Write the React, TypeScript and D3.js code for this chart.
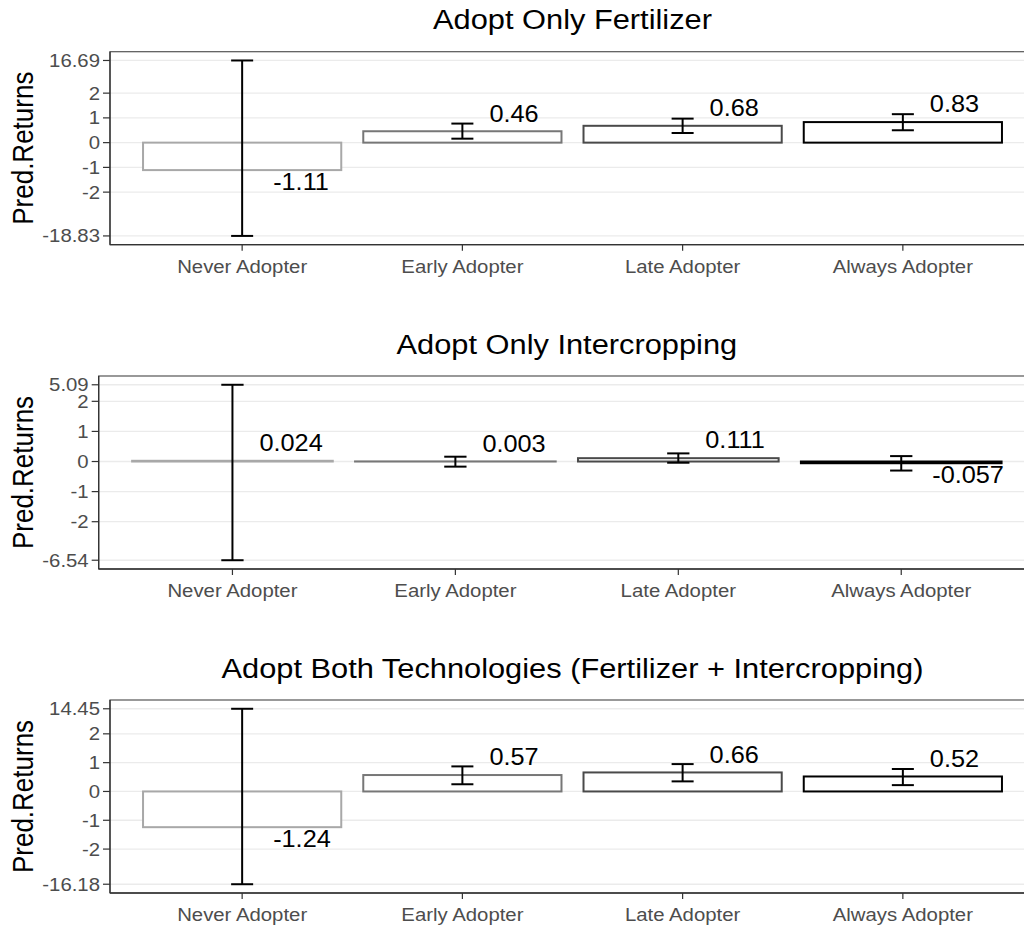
import React from 'react';
import * as d3 from 'd3';

const categories = ['Never Adopter', 'Early Adopter', 'Late Adopter', 'Always Adopter'];
const panelTitles = [
  'Adopt Only Fertilizer',
  'Adopt Only Intercropping',
  'Adopt Both Technologies (Fertilizer + Intercropping)',
];

const fertValues = [-1.11, 0.46, 0.68, 0.83];
const fertLower = [-18.83, 0.16, 0.39, 0.5];
const fertUpper = [16.69, 0.77, 0.97, 1.15];

const interValues = [0.024, 0.003, 0.111, -0.057];
const interLower = [-6.54, -0.17, -0.04, -0.3];
const interUpper = [5.09, 0.16, 0.27, 0.18];

const bothValues = [-1.24, 0.57, 0.66, 0.52];
const bothLower = [-16.18, 0.25, 0.35, 0.22];
const bothUpper = [14.45, 0.87, 0.95, 0.78];

const innerTicks = [-2, -1, 0, 1, 2];
// compressed axis positions (in linear units) of the outer break values
const fertOuter = [-3.77, 3.32];
const interOuter = [-3.28, 2.55];
const bothOuter = [-3.22, 2.87];

const outlineColors = ['#a8a8a8', '#777777', '#4a4a4a', '#000000'];

const panels = [
  { title: panelTitles[0], values: fertValues, lower: fertLower, upper: fertUpper, outer: fertOuter },
  { title: panelTitles[1], values: interValues, lower: interLower, upper: interUpper, outer: interOuter },
  { title: panelTitles[2], values: bothValues, lower: bothLower, upper: bothUpper, outer: bothOuter },
];

const W = 1024;
const H = 928;
const SX = 1.1;
const FONT = '"Liberation Sans", Arial, Helvetica, sans-serif';
const panelTops = [51.7, 376, 700];
const panelH = 193;
const plotRight = 1035;
const yTitleX = 33.3;
const TICK_FS = 18.5;

let ctx: CanvasRenderingContext2D | null = null;
function measure(text: string, size: number): number {
  try {
    if (!ctx) ctx = document.createElement('canvas').getContext('2d');
    if (ctx) {
      ctx.font = `${size}px "Liberation Sans", Arial, sans-serif`;
      return ctx.measureText(text).width;
    }
  } catch (e) {}
  return text.length * size * 0.55;
}

function Panel({ p, top }: { p: typeof panels[number]; top: number }) {
  const lo = p.lower[0];
  const hi = p.upper[0];
  const ticks = [lo, ...innerTicks, hi];
  const labels = ticks.map((t) => String(t));
  const maxW = d3.max(labels, (l) => measure(l, TICK_FS))! * SX;
  const left = yTitleX + 9 + maxW + 10;
  const bottom = top + panelH;

  const t = d3.scaleLinear().domain([lo, -2, 2, hi]).range([p.outer[0], -2, 2, p.outer[1]]);
  const pad = 0.05 * (p.outer[1] - p.outer[0]);
  const py = d3.scaleLinear().domain([p.outer[0] - pad, p.outer[1] + pad]).range([bottom, top]);
  const y = (v: number) => py(t(v));
  const x = d3.scalePoint<string>().domain(categories).range([left, plotRight]).padding(0.6);
  const step = x.step();
  const y0 = y(0);

  return (
    <g>
      {ticks.map((tk, i) => (
        <line key={'g' + i} x1={left} x2={plotRight} y1={y(tk)} y2={y(tk)} stroke="#ebebeb" strokeWidth={1.3} />
      ))}
      {categories.map((c, i) => {
        const cx = x(c)!;
        const v = p.values[i];
        const yv = y(v);
        return (
          <rect
            key={'b' + i}
            x={cx - 0.45 * step}
            y={Math.min(yv, y0)}
            width={0.9 * step}
            height={Math.abs(yv - y0)}
            fill="#ffffff"
            stroke={outlineColors[i]}
            strokeWidth={2}
          />
        );
      })}
      {categories.map((c, i) => {
        const cx = x(c)!;
        const yl = y(p.lower[i]);
        const yu = y(p.upper[i]);
        const hw = 0.05 * step;
        return (
          <g key={'e' + i} stroke="#000" strokeWidth={2}>
            <line x1={cx} x2={cx} y1={yl} y2={yu} />
            <line x1={cx - hw} x2={cx + hw} y1={yl} y2={yl} />
            <line x1={cx - hw} x2={cx + hw} y1={yu} y2={yu} />
          </g>
        );
      })}
      {categories.map((c, i) => {
        const cx = x(c)!;
        const v = p.values[i];
        const tx = cx + (v >= 0 ? 27 : 31);
        const ty = v >= 0 ? y(v) - 9.7 : y(v) + 19.5;
        return (
          <text
            key={'t' + i}
            transform={`translate(${tx},${ty}) scale(${SX},1)`}
            fontSize={23}
            fontFamily={FONT}
            fill="#000"
          >
            {String(v)}
          </text>
        );
      })}
      <rect x={left} y={top} width={plotRight - left} height={panelH} fill="none" stroke="#555555" strokeWidth={1.2} />
      <line x1={left} x2={left} y1={top} y2={bottom} stroke="#333" strokeWidth={1.3} />
      <line x1={left} x2={plotRight} y1={bottom} y2={bottom} stroke="#333" strokeWidth={1.3} />
      {ticks.map((tk, i) => (
        <g key={'yt' + i}>
          <line x1={left - 7} x2={left} y1={y(tk)} y2={y(tk)} stroke="#333" strokeWidth={1.2} />
          <text
            transform={`translate(${left - 10},${y(tk) + 6.5}) scale(${SX},1)`}
            textAnchor="end"
            fontSize={TICK_FS}
            fontFamily={FONT}
            fill="#4d4d4d"
          >
            {labels[i]}
          </text>
        </g>
      ))}
      {categories.map((c, i) => (
        <g key={'xt' + i}>
          <line x1={x(c)!} x2={x(c)!} y1={bottom} y2={bottom + 6} stroke="#333" strokeWidth={1.2} />
          <text
            transform={`translate(${x(c)!},${bottom + 28}) scale(${SX},1)`}
            textAnchor="middle"
            fontSize={TICK_FS}
            fontFamily={FONT}
            fill="#4d4d4d"
          >
            {c}
          </text>
        </g>
      ))}
      <text
        transform={`translate(${yTitleX},${top + panelH / 2}) scale(${SX},1) rotate(-90)`}
        textAnchor="middle"
        fontSize={26}
        fontFamily={FONT}
        fill="#000"
      >
        Pred.Returns
      </text>
      <text
        transform={`translate(${(left + plotRight) / 2},${top - 22.5}) scale(${SX},1)`}
        textAnchor="middle"
        fontSize={28}
        fontFamily={FONT}
        fill="#000"
      >
        {p.title}
      </text>
    </g>
  );
}

export default function App() {
  return (
    <svg
      width={W}
      height={H}
      viewBox={`0 0 ${W} ${H}`}
      style={{ position: 'absolute', left: 0, top: 0, background: '#fff' }}
    >
      <rect x={0} y={0} width={W} height={H} fill="#fff" />
      {panels.map((p, i) => (
        <Panel key={i} p={p} top={panelTops[i]} />
      ))}
    </svg>
  );
}
